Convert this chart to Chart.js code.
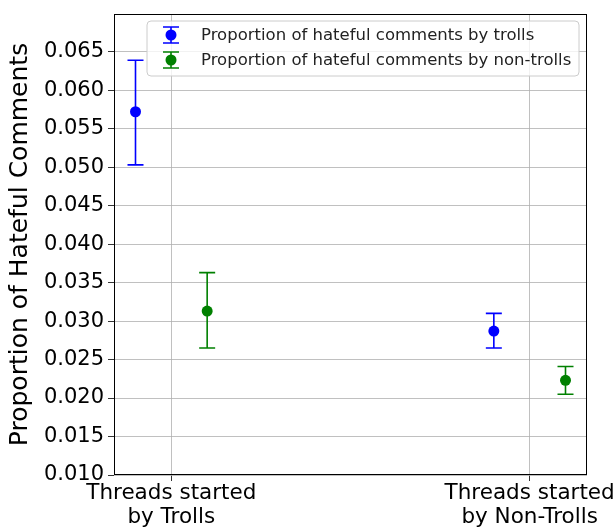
<!DOCTYPE html>
<html>
<head>
<meta charset="utf-8">
<script src="https://cdn.jsdelivr.net/npm/chart.js@4/dist/chart.umd.min.js"></script>
<style>
  html, body { margin: 0; padding: 0; background: #fff; }
  #wrap { width: 613px; height: 527px; }
</style>
</head>
<body>
<div id="wrap"><canvas id="c" width="613" height="527"></canvas></div>
<script>
// 数据
const categories = [['Threads started', 'by Trolls'], ['Threads started', 'by Non-Trolls']];
const seriesNames = ['Proportion of hateful comments by trolls', 'Proportion of hateful comments by non-trolls'];
const seriesColors = ['#0000ff', '#008000'];
const trollMeans = [0.0572, 0.0287];
const trollLow = [0.0503, 0.0265];
const trollHigh = [0.0639, 0.0310];
const nonTrollMeans = [0.0313, 0.0223];
const nonTrollLow = [0.0265, 0.0205];
const nonTrollHigh = [0.0363, 0.0241];
const yTicks = [0.010, 0.015, 0.020, 0.025, 0.030, 0.035, 0.040, 0.045, 0.050, 0.055, 0.060, 0.065];

const FONT = "'DejaVu Sans', sans-serif";
const offsets = [-0.1, 0.1];

function makePoints(means, lows, highs, off) {
  return means.map((m, i) => ({ x: i + off, y: m, lo: lows[i], hi: highs[i] }));
}

// 误差线
const errorBars = {
  id: 'errorBars',
  beforeDatasetsDraw(chart) {
    const ctx = chart.ctx;
    const xs = chart.scales.x, ys = chart.scales.y;
    chart.data.datasets.forEach(ds => {
      ctx.save();
      ctx.strokeStyle = ds.backgroundColor;
      ctx.lineWidth = 1.6;
      ds.data.forEach(p => {
        const px = xs.getPixelForValue(p.x);
        const top = ys.getPixelForValue(p.hi);
        const bot = ys.getPixelForValue(p.lo);
        ctx.beginPath();
        ctx.moveTo(px, top); ctx.lineTo(px, bot);
        ctx.moveTo(px - 8, top); ctx.lineTo(px + 8, top);
        ctx.moveTo(px - 8, bot); ctx.lineTo(px + 8, bot);
        ctx.stroke();
      });
      ctx.restore();
    });
  }
};

// 边框 + 图例
const frameLegend = {
  id: 'frameLegend',
  afterDraw(chart) {
    const ctx = chart.ctx;
    const a = chart.chartArea;
    ctx.save();
    ctx.strokeStyle = '#000';
    ctx.lineWidth = 1;
    ctx.strokeRect(Math.round(a.left) + 0.5, Math.round(a.top) + 0.5,
      Math.round(a.right - a.left) - 1, Math.round(a.bottom - a.top) - 1);

    // 图例框
    const bx = 147, by = 21, bw = 432, bh = 55, r = 4;
    ctx.beginPath();
    ctx.moveTo(bx + r, by);
    ctx.arcTo(bx + bw, by, bx + bw, by + bh, r);
    ctx.arcTo(bx + bw, by + bh, bx, by + bh, r);
    ctx.arcTo(bx, by + bh, bx, by, r);
    ctx.arcTo(bx, by, bx + bw, by, r);
    ctx.closePath();
    ctx.fillStyle = 'rgba(255,255,255,0.8)';
    ctx.fill();
    ctx.strokeStyle = '#cccccc';
    ctx.stroke();

    const rows = [35, 60];
    seriesNames.forEach((name, i) => {
      const y = rows[i], x = 171;
      ctx.strokeStyle = seriesColors[i];
      ctx.fillStyle = seriesColors[i];
      ctx.lineWidth = 1.6;
      ctx.beginPath();
      ctx.moveTo(x, y - 8); ctx.lineTo(x, y + 8);
      ctx.moveTo(x - 8, y - 8); ctx.lineTo(x + 8, y - 8);
      ctx.moveTo(x - 8, y + 8); ctx.lineTo(x + 8, y + 8);
      ctx.stroke();
      ctx.beginPath();
      ctx.arc(x, y, 5.5, 0, Math.PI * 2);
      ctx.fill();
      ctx.fillStyle = '#222';
      ctx.font = '16.5px ' + FONT;
      ctx.textBaseline = 'middle';
      ctx.fillText(name, 201, y + 1);
    });
    ctx.restore();
  }
};

new Chart(document.getElementById('c'), {
  type: 'scatter',
  data: {
    datasets: [
      { label: seriesNames[0], data: makePoints(trollMeans, trollLow, trollHigh, offsets[0]),
        backgroundColor: seriesColors[0], borderColor: seriesColors[0], pointRadius: 5.5, borderWidth: 0 },
      { label: seriesNames[1], data: makePoints(nonTrollMeans, nonTrollLow, nonTrollHigh, offsets[1]),
        backgroundColor: seriesColors[1], borderColor: seriesColors[1], pointRadius: 5.5, borderWidth: 0 }
    ]
  },
  options: {
    responsive: false,
    animation: false,
    layout: { padding: { top: 14, right: 26, left: 0, bottom: 0 } },
    plugins: { legend: { display: false }, tooltip: { enabled: false } },
    scales: {
      x: {
        type: 'linear',
        min: -0.16,
        max: 1.16,
        afterBuildTicks(scale) { scale.ticks = categories.map((c, i) => ({ value: i })); },
        afterFit(scale) { scale.height = 52; scale.paddingLeft = 0; scale.paddingRight = 0; },
        ticks: {
          color: '#000',
          font: { family: FONT, size: 21.5, lineHeight: 1.1 },
          padding: 1,
          maxRotation: 0,
          autoSkip: false,
          callback: v => categories[Math.round(v)] || ''
        },
        grid: { color: '#b0b0b0', lineWidth: 0.8, tickLength: 6, tickColor: '#000' },
        border: { display: false }
      },
      y: {
        min: 0.010,
        max: 0.0699,
        afterBuildTicks(scale) { scale.ticks = yTicks.map(v => ({ value: v })); },
        afterFit(scale) { scale.width = 114; scale.paddingTop = 0; scale.paddingBottom = 0; },
        ticks: {
          color: '#000',
          font: { family: FONT, size: 21 },
          padding: 4,
          callback: v => v.toFixed(3)
        },
        title: {
          display: true,
          text: 'Proportion of Hateful Comments',
          color: '#000',
          font: { family: FONT, size: 25 },
          padding: { top: 5, bottom: 0 }
        },
        grid: { color: '#b0b0b0', lineWidth: 0.8, tickLength: 6, tickColor: '#000' },
        border: { display: false }
      }
    }
  },
  plugins: [errorBars, frameLegend]
});
</script>
</body>
</html>
